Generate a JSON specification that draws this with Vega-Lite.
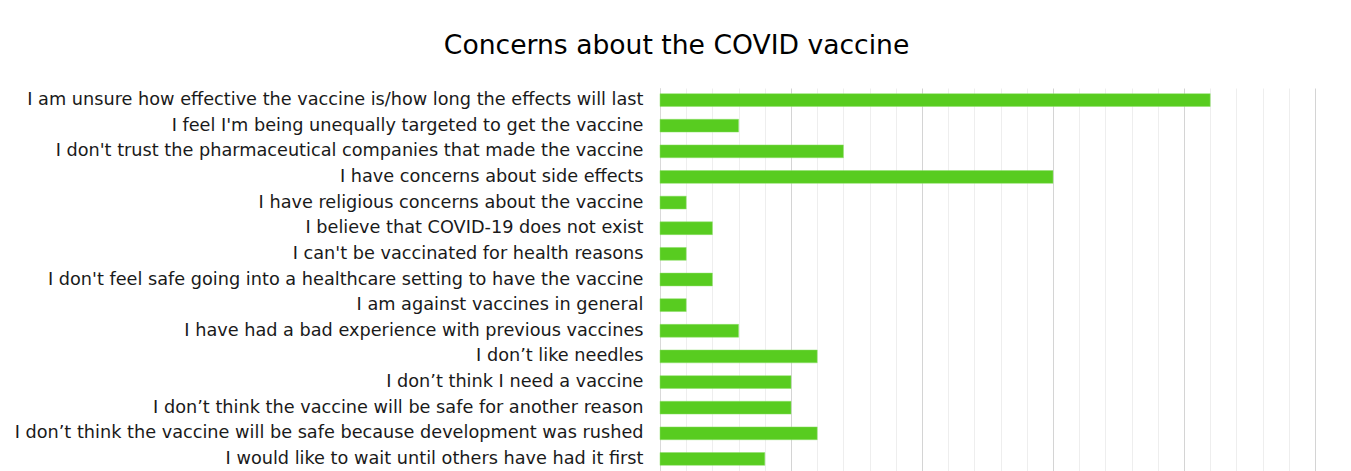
{
  "$schema": "https://vega.github.io/schema/vega-lite/v6.json",
  "autosize": "none",
  "width": 655,
  "height": 383,
  "padding": {"left": 660, "top": 88, "right": 36, "bottom": 0},
  "background": "white",
  "title": {
    "text": "Concerns about the COVID vaccine",
    "font": "DejaVu Sans",
    "fontSize": 26.6,
    "fontWeight": "normal",
    "color": "#000000",
    "anchor": "middle",
    "frame": "bounds",
    "dx": 12,
    "offset": 28
  },
  "data": {
    "values": [
      {"concern": "I am unsure how effective the vaccine is/how long the effects will last", "count": 21},
      {"concern": "I feel I'm being unequally targeted to get the vaccine", "count": 3},
      {"concern": "I don't trust the pharmaceutical companies that made the vaccine", "count": 7},
      {"concern": "I have concerns about side effects", "count": 15},
      {"concern": "I have religious concerns about the vaccine", "count": 1},
      {"concern": "I believe that COVID-19 does not exist", "count": 2},
      {"concern": "I can't be vaccinated for health reasons", "count": 1},
      {"concern": "I don't feel safe going into a healthcare setting to have the vaccine", "count": 2},
      {"concern": "I am against vaccines in general", "count": 1},
      {"concern": "I have had a bad experience with previous vaccines", "count": 3},
      {"concern": "I don’t like needles", "count": 6},
      {"concern": "I don’t think I need a vaccine", "count": 5},
      {"concern": "I don’t think the vaccine will be safe for another reason", "count": 5},
      {"concern": "I don’t think the vaccine will be safe because development was rushed", "count": 6},
      {"concern": "I would like to wait until others have had it first", "count": 4}
    ]
  },
  "mark": {"type": "bar", "color": "#58CC20", "stroke": "#8fe06a", "strokeWidth": 0.5},
  "encoding": {
    "y": {
      "field": "concern",
      "type": "nominal",
      "sort": null,
      "scale": {"paddingInner": 0.5, "paddingOuter": 0.22},
      "axis": {
        "title": null,
        "ticks": false,
        "domain": true,
        "domainColor": "#d9d9d9",
        "labelFont": "DejaVu Sans",
        "labelFontSize": 17.7,
        "labelColor": "#1a1a1a",
        "labelPadding": 17,
        "labelLimit": 700
      }
    },
    "x": {
      "field": "count",
      "type": "quantitative",
      "scale": {"domain": [0, 25], "nice": false},
      "axis": {
        "title": null,
        "labels": false,
        "ticks": false,
        "domain": false,
        "values": [0,1,2,3,4,5,6,7,8,9,10,11,12,13,14,15,16,17,18,19,20,21,22,23,24,25],
        "gridColor": {"condition": {"test": "datum.value % 5 === 0", "value": "#d4d4d4"}, "value": "#eeeeee"}
      }
    }
  },
  "config": {"view": {"stroke": null}}
}
